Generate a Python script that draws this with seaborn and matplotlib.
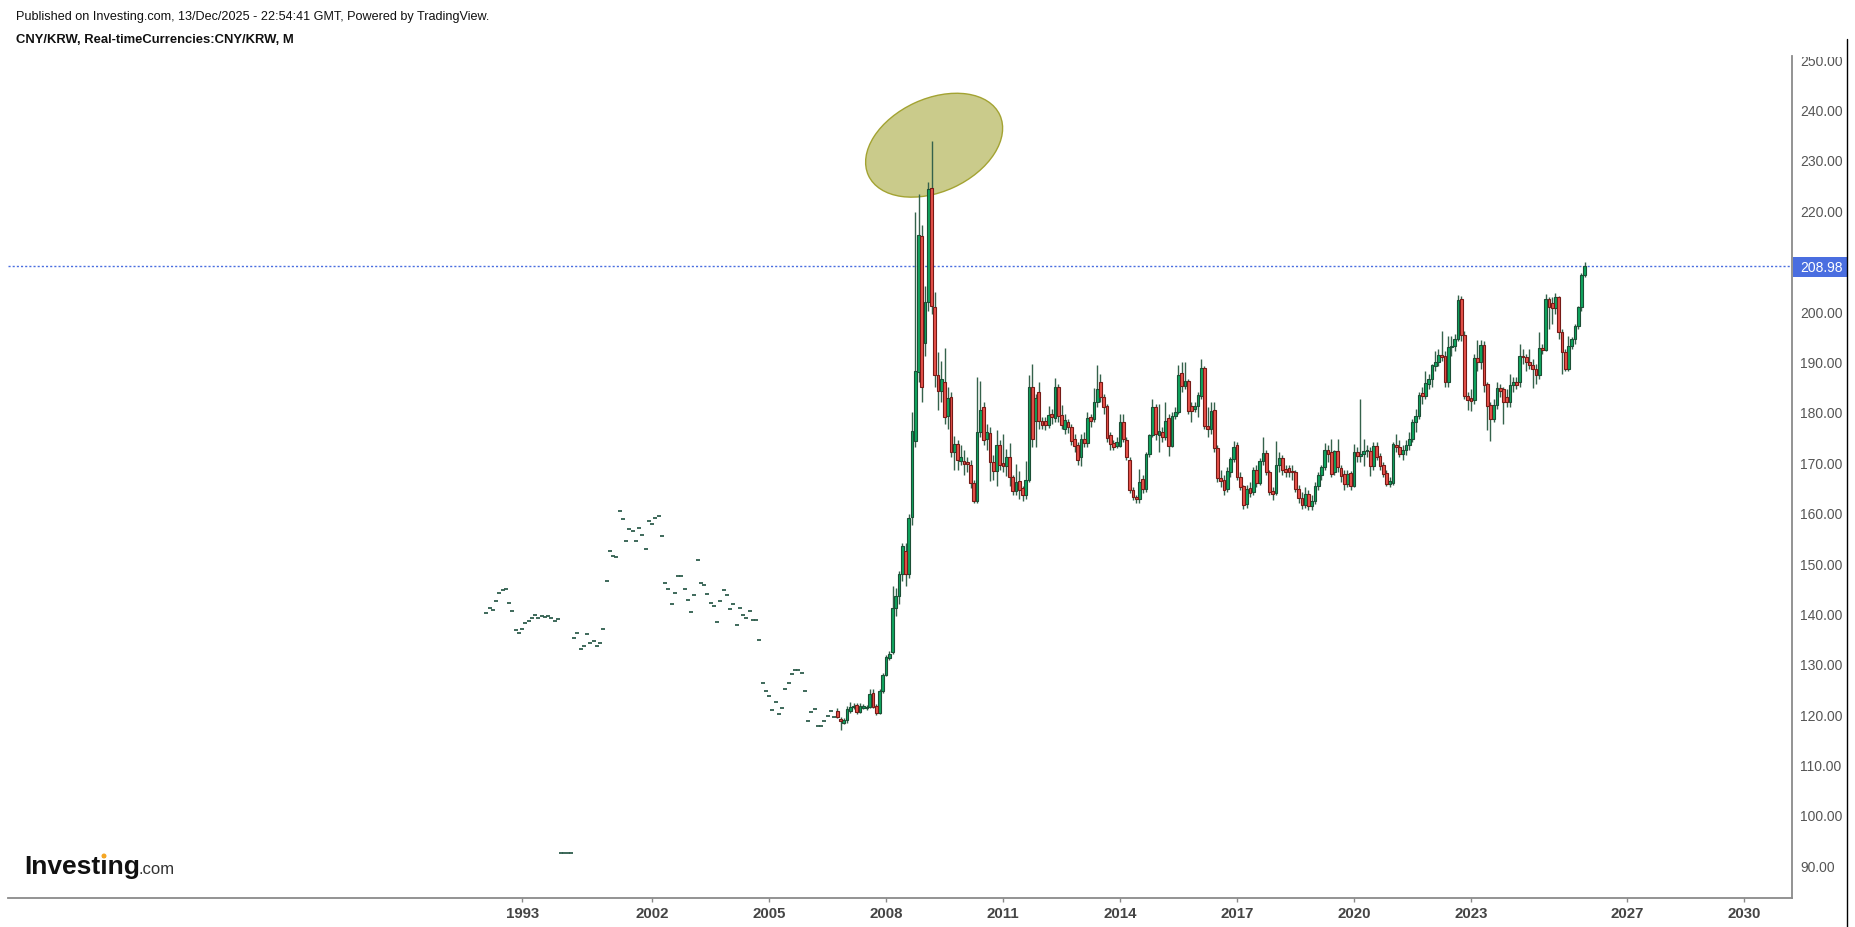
import matplotlib
matplotlib.use("Agg")
import matplotlib.pyplot as plt
import seaborn as sns
import pandas as pd
from matplotlib.patches import Ellipse, Rectangle
from matplotlib.lines import Line2D
from matplotlib.transforms import ScaledTranslation

sns.set_theme(style="white")
plt.rcParams['font.family'] = ['Liberation Sans', 'DejaVu Sans']

# early prints with no range (open = high = low = close), bar index 1..108
flat_first = 1
flat_prints = [
    140.0, 141.1, 140.7, 142.5, 144.1, 144.6, 144.9, 142.1, 140.5, 136.7,
    136.2, 136.9, 138.0, 138.5, 139.0, 139.7, 139.0, 139.5, 139.2, 139.5,
    139.0, 138.5, 138.8, 92.5, 92.5, 92.5, 92.5, 135.2, 136.2, 132.9,
    133.6, 135.9, 134.2, 134.5, 133.6, 134.2, 137.0, 146.4, 152.4, 151.4,
    151.1, 160.3, 158.8, 154.4, 156.8, 156.4, 154.4, 157.0, 155.6, 152.8,
    158.3, 157.8, 159.0, 159.4, 155.4, 146.1, 144.9, 141.9, 144.1, 147.4,
    147.4, 144.9, 142.7, 140.2, 143.7, 150.6, 146.1, 145.6, 143.9, 142.1,
    141.5, 138.2, 142.5, 144.7, 143.7, 140.9, 141.9, 137.7, 141.1, 139.7,
    139.0, 140.5, 138.7, 138.7, 134.7, 126.1, 124.6, 123.6, 120.9, 122.5,
    120.1, 121.2, 125.0, 126.2, 128.0, 128.8, 128.8, 128.2, 124.6, 118.7,
    120.5, 121.0, 117.6, 117.7, 118.6, 119.7, 120.7, 119.5,
]

# monthly candles, bar index 109 (Oct 2006) .. 339 (Dec 2025)
candle_first = 109
opens = [
    120.7, 119.1, 118.2, 118.8, 120.7, 121.4, 121.8, 120.5, 121.3, 121.2,
    121.5, 124.3, 121.7, 120.3, 124.6, 127.8, 131.1, 132.3, 141.0, 143.4,
    147.9, 152.4, 147.9, 159.2, 174.3, 187.9, 214.9, 193.6, 201.8, 224.4,
    200.8, 187.3, 184.2, 186.0, 179.1, 182.9, 172.1, 173.6, 170.3, 170.2,
    170.0, 169.5, 165.8, 162.3, 176.0, 180.9, 174.6, 175.7, 170.0, 168.2,
    173.5, 169.8, 169.3, 171.0, 167.0, 164.2, 166.2, 164.9, 163.4, 166.5,
    185.0, 178.2, 183.9, 178.2, 178.1, 177.4, 179.6, 178.8, 185.0, 179.4,
    176.5, 177.9, 176.9, 174.7, 173.5, 171.0, 174.7, 173.9, 178.9, 178.6,
    182.0, 185.9, 183.0, 181.1, 175.3, 173.8, 173.3, 173.3, 177.9, 174.5,
    170.5, 164.4, 163.0, 162.7, 166.7, 164.7, 171.6, 175.3, 180.9, 175.3,
    175.9, 175.1, 178.7, 173.3, 179.2, 180.0, 187.7, 185.2, 186.2, 181.1,
    180.6, 181.1, 183.2, 188.7, 177.2, 176.5, 180.4, 172.8, 166.9, 166.5,
    164.7, 168.1, 170.6, 173.5, 167.0, 165.2, 161.7, 164.9, 164.0, 168.5,
    165.8, 170.2, 171.8, 168.1, 164.2, 163.8, 169.5, 170.8, 168.7, 168.8,
    168.2, 168.0, 164.7, 162.8, 161.5, 163.6, 161.3, 162.3, 165.3, 167.5,
    169.0, 172.5, 172.1, 168.0, 172.2, 168.8, 167.7, 165.7, 167.8, 165.3,
    172.0, 171.3, 171.6, 172.2, 172.2, 169.3, 173.3, 171.3, 169.5, 167.8,
    165.7, 165.9, 173.4, 173.0, 171.6, 172.5, 173.4, 174.7, 177.9, 179.2,
    183.7, 183.1, 185.5, 186.5, 189.0, 189.8, 191.3, 191.1, 185.9, 192.8,
    193.0, 194.5, 202.3, 195.2, 183.2, 182.7, 182.3, 190.6, 189.8, 193.3,
    185.5, 181.4, 178.6, 181.3, 184.7, 184.6, 182.9, 181.9, 185.4, 186.0,
    185.9, 191.1, 190.8, 189.8, 189.2, 188.4, 187.3, 192.6, 192.3, 202.3,
    201.5, 200.6, 202.7, 195.8, 191.8, 188.5, 193.1, 194.5, 197.1, 200.7,
    207.2,
]
highs = [
    121.2, 119.5, 119.3, 121.7, 122.4, 122.3, 122.2, 122.3, 122.0, 121.8,
    125.0, 125.0, 122.0, 125.0, 128.2, 131.8, 132.5, 145.5, 145.0, 148.5,
    154.0, 154.0, 159.8, 180.0, 219.6, 223.3, 217.0, 204.9, 225.6, 233.8,
    203.7, 191.8, 190.0, 192.6, 185.0, 184.0, 175.2, 174.5, 173.5, 172.5,
    171.0, 170.5, 166.5, 187.0, 186.2, 182.0, 177.5, 177.0, 171.5, 176.3,
    174.5, 175.6, 172.6, 173.9, 167.5, 169.6, 168.2, 165.3, 170.3, 187.3,
    189.4, 183.5, 185.9, 179.0, 179.0, 181.2, 180.5, 186.8, 185.5, 181.4,
    179.5, 178.5, 177.5, 175.5, 174.0, 175.6, 176.0, 179.9, 179.5, 184.8,
    189.2, 187.5, 183.5, 181.5, 176.0, 174.5, 175.0, 179.6, 179.5, 175.0,
    171.0, 165.0, 163.5, 168.6, 167.5, 172.0, 175.6, 182.5, 181.5, 181.5,
    177.0, 181.9, 179.5, 180.0, 181.0, 189.2, 189.8, 189.9, 186.5, 182.0,
    182.0, 184.0, 190.5, 189.0, 181.0, 181.9, 182.0, 173.5, 168.5, 167.5,
    169.0, 171.0, 174.2, 174.0, 168.0, 165.5, 165.5, 166.0, 169.0, 169.5,
    170.8, 175.0, 172.5, 168.5, 165.0, 174.2, 172.0, 171.5, 169.5, 169.5,
    169.5, 168.5, 165.5, 164.0, 165.0, 164.5, 163.5, 166.0, 168.0, 169.5,
    173.9, 173.5, 174.6, 172.5, 174.6, 169.5, 168.5, 168.5, 168.2, 173.6,
    173.0, 182.5, 174.6, 173.5, 173.0, 174.0, 174.0, 171.8, 170.0, 168.5,
    167.0, 174.0, 175.5, 174.5, 173.5, 174.5, 176.0, 178.5, 180.5, 184.0,
    185.0, 188.0, 187.5, 189.5, 192.0, 192.5, 196.1, 192.0, 195.1, 195.0,
    195.5, 203.2, 203.0, 196.0, 184.0, 184.5, 191.5, 194.3, 194.3, 194.0,
    186.0, 182.0, 182.5, 185.9, 185.5, 185.0, 184.5, 187.5, 187.0, 187.0,
    193.5, 192.5, 191.5, 192.5, 190.5, 189.5, 195.8, 193.5, 203.4, 202.8,
    202.8, 203.6, 203.0, 196.5, 192.5, 195.0, 194.8, 197.5, 201.0, 207.5,
    209.8,
]
lows = [
    119.2, 116.8, 118.0, 118.2, 120.3, 121.0, 120.0, 120.3, 121.0, 120.9,
    121.2, 121.2, 119.8, 120.0, 124.3, 127.5, 130.8, 132.0, 139.5, 141.8,
    146.5, 145.5, 147.0, 157.5, 173.0, 186.0, 182.0, 191.0, 200.0, 199.5,
    185.0, 180.3, 182.0, 177.5, 176.5, 171.0, 168.4, 168.5, 169.5, 167.5,
    168.0, 164.8, 161.9, 162.0, 175.0, 173.5, 172.5, 166.3, 166.5, 165.3,
    168.5, 168.0, 167.3, 165.3, 163.5, 163.4, 162.7, 162.4, 162.7, 166.0,
    173.0, 173.0, 176.6, 176.5, 176.3, 176.8, 177.5, 178.0, 178.0, 176.5,
    175.5, 175.8, 173.5, 172.0, 169.5, 169.3, 173.0, 173.0, 177.0, 178.0,
    181.0, 182.0, 179.5, 174.0, 172.5, 172.5, 172.8, 173.0, 174.0, 170.5,
    163.8, 162.5, 162.0, 162.0, 163.8, 164.0, 171.0, 175.0, 174.5, 172.0,
    174.0, 174.5, 171.3, 173.0, 178.5, 179.5, 184.0, 184.5, 179.5, 178.0,
    180.0, 179.0, 182.5, 176.5, 175.0, 175.5, 172.0, 166.0, 165.0, 163.5,
    164.0, 167.0, 170.0, 166.5, 164.5, 160.8, 161.0, 163.0, 163.5, 165.0,
    165.5, 169.5, 167.5, 163.5, 162.5, 163.5, 168.0, 167.5, 167.0, 167.0,
    166.5, 164.0, 162.0, 160.8, 161.0, 160.5, 160.5, 161.8, 164.5, 166.5,
    168.5, 170.0, 167.0, 167.5, 168.0, 166.0, 164.5, 165.0, 164.5, 165.0,
    170.0, 170.0, 169.3, 171.0, 167.3, 168.5, 170.5, 168.5, 167.0, 165.2,
    165.0, 165.5, 172.0, 171.0, 170.5, 171.5, 172.5, 174.0, 176.0, 178.5,
    181.5, 182.5, 184.5, 185.0, 188.0, 189.0, 190.0, 185.0, 185.0, 191.0,
    192.0, 194.0, 194.0, 182.5, 180.4, 180.2, 181.5, 188.0, 188.5, 184.0,
    176.3, 174.3, 178.0, 180.5, 183.0, 177.5, 181.0, 181.0, 184.0, 184.5,
    185.0, 189.5, 188.0, 188.5, 184.7, 185.5, 186.5, 191.5, 192.0, 196.4,
    197.5, 199.5, 194.5, 187.5, 188.0, 188.0, 192.5, 193.5, 196.5, 200.0,
    206.8,
]
closes = [
    119.5, 118.6, 118.8, 121.0, 121.4, 121.7, 120.5, 121.6, 121.7, 121.5,
    124.1, 121.5, 120.3, 124.6, 127.8, 131.4, 131.9, 141.0, 143.4, 147.9,
    153.3, 147.9, 159.0, 176.2, 188.1, 215.1, 185.0, 201.8, 224.2, 201.0,
    187.3, 184.2, 186.5, 178.9, 182.8, 172.1, 173.7, 170.5, 171.0, 169.7,
    169.6, 165.8, 162.3, 176.0, 180.3, 174.4, 176.0, 170.0, 168.2, 173.5,
    169.5, 169.3, 171.0, 167.0, 164.2, 166.0, 164.4, 163.4, 166.5, 184.9,
    174.6, 182.7, 178.2, 177.4, 177.3, 179.4, 178.9, 185.0, 179.2, 177.3,
    178.4, 176.9, 174.3, 173.3, 170.4, 174.7, 173.9, 178.7, 178.2, 182.0,
    184.5, 182.9, 180.9, 174.9, 173.6, 173.1, 174.1, 177.9, 174.6, 171.0,
    164.4, 163.0, 162.7, 166.1, 164.7, 171.6, 175.3, 180.9, 175.6, 176.1,
    175.1, 178.2, 173.2, 179.2, 180.0, 187.3, 185.1, 186.2, 180.1, 180.1,
    181.2, 183.3, 188.7, 177.1, 176.5, 180.2, 172.8, 166.9, 166.3, 164.5,
    168.3, 170.6, 173.1, 167.0, 165.0, 161.5, 164.7, 163.9, 168.5, 165.8,
    170.2, 171.8, 168.1, 164.0, 163.7, 169.5, 170.8, 168.5, 168.1, 168.0,
    168.0, 164.7, 162.8, 161.5, 163.6, 161.3, 162.3, 165.3, 167.5, 169.0,
    172.5, 171.6, 167.7, 172.2, 169.0, 167.3, 165.7, 167.7, 165.3, 172.0,
    171.3, 171.6, 172.2, 172.5, 169.3, 173.3, 171.0, 169.3, 167.7, 165.7,
    166.2, 173.6, 173.0, 171.6, 172.5, 173.4, 174.7, 177.9, 179.2, 183.4,
    183.1, 185.7, 186.5, 189.2, 189.8, 191.3, 190.8, 185.9, 192.8, 193.1,
    194.5, 202.1, 195.2, 183.2, 182.4, 182.2, 190.6, 189.8, 193.3, 185.3,
    181.1, 178.6, 181.3, 184.7, 184.2, 181.9, 181.9, 185.4, 185.9, 185.4,
    191.1, 190.8, 189.8, 189.2, 188.4, 187.3, 192.6, 192.3, 202.3, 200.7,
    200.6, 202.7, 195.8, 191.8, 188.5, 193.1, 194.5, 197.1, 200.7, 207.2,
    208.98,
]
last_price = 208.98

year_labels = ['1993', '2002', '2005', '2008', '2011', '2014', '2017', '2020', '2023', '2027', '2030']
year_bars = [12, 52, 88, 124, 160, 196, 232, 268, 304, 352, 388]
price_ticks = list(range(90, 251, 10))

green = '#0fa65f'
green_edge = '#1b4f36'
red = '#e8524a'
red_edge = '#761a16'
wick = '#35624c'
flat_color = '#2f5e4d'
blue = '#4a6ee0'
axis_grey = '#8a8a8a'

W, H = 1855, 928
fig = plt.figure(figsize=(W / 100, H / 100), dpi=100)
ax = fig.add_axes([8 / W, 29 / H, (1792 - 8) / W, (899 - 57) / H])

flat = pd.DataFrame({'bar': range(flat_first, flat_first + len(flat_prints)), 'price': flat_prints})
sns.scatterplot(data=flat, x='bar', y='price', marker='_', s=9, color=flat_color,
                linewidth=1.3, ax=ax, zorder=3, legend=False)

df = pd.DataFrame({'bar': range(candle_first, candle_first + len(closes)),
                   'o': opens, 'h': highs, 'l': lows, 'c': closes})
ax.vlines(df['bar'], df['l'], df['h'], color=wick, lw=1.0, zorder=2)
up = df['c'] >= df['o']
for mask, fc, ec in [(up, green, green_edge), (~up, red, red_edge)]:
    d = df[mask]
    ax.bar(d['bar'], (d['c'] - d['o']).abs().clip(lower=0.3), bottom=d[['o', 'c']].min(axis=1),
           width=0.88, color=fc, edgecolor=ec, linewidth=0.8, zorder=3)

# highlight ellipse around the 2009 spike (drawn in pixel units)
ell = Ellipse((0, 0), 1.446, 0.93, angle=24.7, facecolor='#cacb8b', edgecolor='#a3a332',
              linewidth=1.0, zorder=1,
              transform=fig.dpi_scale_trans + ScaledTranslation(138.8, 232.9, ax.transData))
ax.add_patch(ell)

ax.axhline(last_price, color=blue, lw=1.0, ls=(0, (1.5, 1.5)), zorder=1)

ax.set_xlim(-146.2, 402.8)
ax.set_ylim(83.53, 250.6)
ax.set_xticks(year_bars)
ax.set_xticklabels(year_labels, fontweight='bold')
ax.yaxis.tick_right()
ax.set_yticks(price_ticks)
# the 210 label sits under the price tag
ax.set_yticklabels(['' if p == 210 else f'{p:.2f}' for p in price_ticks])
ax.tick_params(axis='y', which='both', right=True, length=3.6, width=1.0, color=axis_grey,
               pad=2.2, labelsize=10, labelcolor='#555555')
ax.tick_params(axis='x', which='both', bottom=True, length=3.0, width=1.0, color=axis_grey,
               pad=3, labelsize=10.8, labelcolor='#444444')
ax.set_xlabel('')
ax.set_ylabel('')
sns.despine(ax=ax, left=True, top=True, right=False, bottom=False)
for side in ['right', 'bottom']:
    ax.spines[side].set_color(axis_grey)
    ax.spines[side].set_linewidth(1.3)

# cover top of clipped 250 label, price tag, outer border
fig.add_artist(Rectangle((1796 / W, 1 - 58 / H), 50 / W, 58 / H, transform=fig.transFigure,
                         facecolor='white', edgecolor='none', zorder=5))
fig.add_artist(Rectangle((1793 / W, 1 - 278 / H), 54 / W, 20 / H, transform=fig.transFigure,
                         facecolor=blue, edgecolor='none', zorder=6))
fig.text(1800 / W, 1 - 268 / H, f'{last_price:.2f}', color='white', fontsize=10,
         va='center', ha='left', zorder=7)
fig.add_artist(Line2D([1847 / W, 1847 / W], [0, 1 - 40 / H], color='black', lw=1.0,
                      transform=fig.transFigure, zorder=6))

fig.text(16 / W, 1 - 17 / H, 'Published on Investing.com, 13/Dec/2025 - 22:54:41 GMT, Powered by TradingView.',
         fontsize=9.1, va='center', ha='left', color='#111111')
fig.text(16 / W, 1 - 40 / H, 'CNY/KRW, Real-timeCurrencies:CNY/KRW, M',
         fontsize=9.4, fontweight='bold', va='center', ha='left', color='#111111')

fig.text(24 / W, 1 - 874 / H, 'Investing', fontsize=19, fontweight='bold',
         va='baseline', ha='left', color='#111111')
fig.text(138 / W, 1 - 874 / H, '.com', fontsize=12, va='baseline', ha='left', color='#333333')
# orange dot of the logo's second i
fig.add_artist(Ellipse((104 / W, 1 - 857 / H), 5 / W, 5 / H, transform=fig.transFigure,
                       facecolor='#f5a623', edgecolor='none', zorder=6))

fig.savefig('out.png', dpi=100)
